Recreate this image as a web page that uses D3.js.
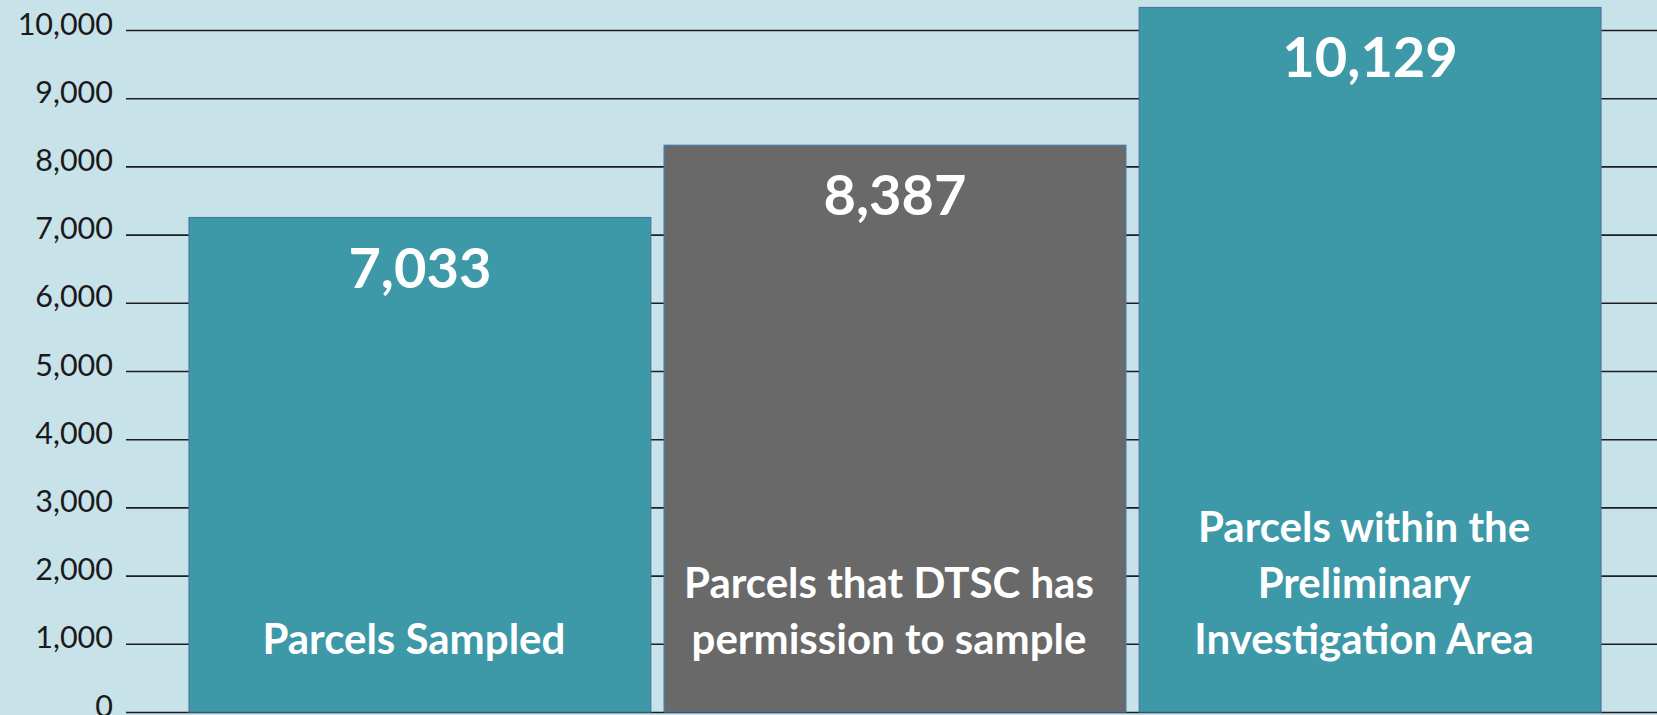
<!DOCTYPE html>
<html>
<head>
<meta charset="utf-8">
<script src="https://cdn.jsdelivr.net/npm/d3@7"></script>
<style>
  body { margin: 0; background: #c8e2e9; }
  svg { display: block; font-family: Lato, "Open Sans", sans-serif; }
</style>
</head>
<body>
<div id="chart"></div>
<script>
const width = 1657;
const height = 715;

// categories and the numbers printed on each bar
const categories = ["sampled", "permission", "pia"];
const categoryLines = [
  ["Parcels Sampled"],
  ["Parcels that DTSC has", "permission to sample"],
  ["Parcels within the", "Preliminary", "Investigation Area"]
];
const values = [7033, 8387, 10129];
// bar tops as drawn in the picture (the original art doesn't line up exactly with its labels)
const barHeights = [7250, 8310, 10330];
const barColors = ["#3d98a8", "#696969", "#3d98a8"];
const yTicks = [0, 1000, 2000, 3000, 4000, 5000, 6000, 7000, 8000, 9000, 10000];

const svg = d3.select("#chart")
  .append("svg")
    .attr("width", width)
    .attr("height", height);

svg.append("rect")
  .attr("width", width)
  .attr("height", height)
  .attr("fill", "#c8e2e9");

const x = d3.scaleBand()
  .domain(categories)
  .range([189, 1601])
  .paddingInner(0.028)
  .paddingOuter(0);

const y = d3.scaleLinear()
  .domain([0, 10000])
  .range([712, 30]);

// gridlines + tick labels
const axisX = 126;
const yAxis = d3.axisLeft(y)
  .tickValues(yTicks)
  .tickFormat(d3.format(","))
  .tickSize(-(width - axisX))
  .tickPadding(13);

const gAxis = svg.append("g")
  .attr("transform", `translate(${axisX},0)`)
  .call(yAxis);
gAxis.select(".domain").remove();
gAxis.selectAll(".tick line")
  .attr("stroke", "#1e1e1e")
  .attr("stroke-width", 1.6);
gAxis.selectAll(".tick text")
  .attr("dy", 4)
  .attr("fill", "#1a1a1a")
  .style("font-size", "30.5px")
  .style("font-family", "Lato, sans-serif");

// bars
svg.append("g")
  .selectAll("rect")
  .data(categories)
  .join("rect")
    .attr("x", d => x(d))
    .attr("y", (d, i) => y(barHeights[i]))
    .attr("width", x.bandwidth())
    .attr("height", (d, i) => y(0) - y(barHeights[i]))
    .attr("fill", (d, i) => barColors[i])
    .attr("stroke", "#4679a4")
    .attr("stroke-width", 1.2);

// value labels near the top of each bar
svg.append("g")
  .selectAll("text")
  .data(categories)
  .join("text")
    .attr("x", d => x(d) + x.bandwidth() / 2)
    .attr("y", (d, i) => y(barHeights[i]) + 70)
    .attr("text-anchor", "middle")
    .attr("fill", "#fff")
    .style("font-weight", "bold")
    .style("font-size", "56px")
    .text((d, i) => d3.format(",")(values[i]));

// category labels, bottom aligned inside the bars
const lineHeight = 56;
svg.append("g")
  .selectAll("text")
  .data(categories)
  .join("text")
    .attr("text-anchor", "middle")
    .attr("fill", "#fff")
    .style("font-weight", "bold")
    .style("font-size", "42px")
  .each(function(d, i) {
    const lines = categoryLines[i];
    const cx = x(d) + x.bandwidth() / 2 - 6;
    d3.select(this)
      .selectAll("tspan")
      .data(lines)
      .join("tspan")
        .attr("x", cx)
        .attr("y", (l, j) => y(0) - 58 - (lines.length - 1 - j) * lineHeight)
        .text(l => l);
  });
</script>
</body>
</html>
